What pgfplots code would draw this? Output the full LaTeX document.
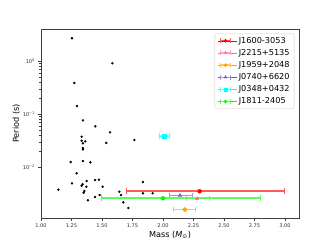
\documentclass[border=0pt]{standalone}
\usepackage{pgfplots}
\pgfplotsset{compat=1.18}
\usepackage{fontspec}
\setmainfont{DejaVu Sans}
\definecolor{mpink}{RGB}{255,105,180}
\definecolor{morange}{RGB}{255,165,0}
\definecolor{mpurple}{RGB}{106,90,205}
\definecolor{mcyan}{RGB}{0,255,255}
\definecolor{mgreen}{RGB}{0,255,0}
\pgfplotsset{
  ebar/.style={
    only marks, mark size=2bp, color=#1, mark options={fill=#1, draw=#1},
    legend image code/.code={
      \path (-3bp,0bp) -- (16bp,0bp);
      \draw[mark=none,solid,line width=1.3bp,draw=#1!65!white] (0bp,0bp)--(10bp,0bp);
      \draw[mark=none,solid,line width=0.8bp,draw=#1!65!white] (0bp,-2.5bp)--(0bp,2.5bp) (10bp,-2.5bp)--(10bp,2.5bp);
      \draw[##1,mark size=1.6bp] plot coordinates {(5bp,0bp)};
    },
    error bars/x dir=both, error bars/x explicit,
    error bars/error mark=|,
    error bars/error bar style={line width=1.6bp, draw=#1!65!white},
    error bars/error mark options={line width=1bp, mark size=2.8bp, draw=#1!65!white}
  }
}
\begin{document}
\begin{tikzpicture}
\path[use as bounding box] (-41bp,-31bp) rectangle (291bp,218bp);
\begin{axis}[
  at={(0,0)}, anchor=south west,
  scale only axis, width=258bp, height=189bp,
  ymode=log, xmin=1, xmax=3.115, ymin=0.001135, ymax=3.98,
  xtick={1,1.25,1.5,1.75,2,2.25,2.5,2.75,3},
  xticklabels={1.00,1.25,1.50,1.75,2.00,2.25,2.50,2.75,3.00},
  ytick={0.01,0.1,1},
  yticklabels={10\textsuperscript{−2},10\textsuperscript{−1},10\textsuperscript{0}},
  tick label style={font=\fontsize{5.1}{6}\selectfont, text=black!80},
  label style={font=\fontsize{8.2}{10}\selectfont},
  xlabel={Mass (\textit{M}\textsubscript{⊙})},
  ylabel={Period (s)},
  xlabel shift=-3bp, ylabel shift=-4bp,
  tick align=outside, tick pos=left,
  major tick length=2.5bp, minor tick length=1.5bp,
  every tick/.style={black!75, line width=0.5bp},
  axis line style={line width=0.6bp, black!75},
  legend style={at={(1,1)}, anchor=north east, xshift=-4.7bp, yshift=-4.3bp,
    font=\fontsize{8.2}{10}\selectfont, draw=black!20, rounded corners=1.5bp,
    inner xsep=2.5bp, inner ysep=1.5bp, row sep=0.6bp},
  legend cell align=left,
]
\addplot[only marks, mark=*, mark size=1bp, black, forget plot] coordinates {
(1.254,2.67) (1.585,0.906) (1.273,0.387) (1.295,0.143) (1.344,0.0771)
(1.445,0.0596) (1.566,0.0459) (1.333,0.0380) (1.333,0.0320) (1.363,0.0311)
(1.344,0.0286) (1.535,0.0290) (1.344,0.0233) (1.344,0.0219) (1.765,0.0330)
(1.243,0.0127) (1.344,0.0133) (1.404,0.0126) (1.292,0.00782) (1.254,0.00507)
(1.374,0.00561) (1.341,0.00486) (1.333,0.00457) (1.443,0.00585) (1.475,0.00593)
(1.505,0.00438) (1.372,0.00438) (1.142,0.00385) (1.355,0.00364) (1.350,0.00338)
(1.443,0.00281) (1.481,0.00306) (1.385,0.00244) (1.642,0.00353) (1.656,0.00306)
(1.675,0.00223) (1.716,0.00175) (1.836,0.00537) (1.836,0.00330) (1.915,0.00330)
};
\addplot[mark=*, ebar=red] coordinates {(2.30,0.00360) -= (0.60,0) += (0.70,0)};
\addlegendentry{J1600-3053}
\addplot[mark=triangle*, ebar=mpink] coordinates {(2.28,0.00262) -= (0.09,0) += (0.10,0)};
\addlegendentry{J2215+5135}
\addplot[mark=*, ebar=morange] coordinates {(2.18,0.00163) -= (0.09,0) += (0.09,0)};
\addlegendentry{J1959+2048}
\addplot[mark=triangle*, ebar=mpurple] coordinates {(2.14,0.00300) -= (0.09,0) += (0.10,0)};
\addlegendentry{J0740+6620}
\addplot[mark=square*, ebar=mcyan] coordinates {(2.01,0.0391) -= (0.04,0) += (0.04,0)};
\addlegendentry{J0348+0432}
\addplot[mark=*, ebar=mgreen] coordinates {(2.00,0.00266) -= (0.50,0) += (0.80,0)};
\addlegendentry{J1811-2405}
\end{axis}
\end{tikzpicture}
\end{document}
